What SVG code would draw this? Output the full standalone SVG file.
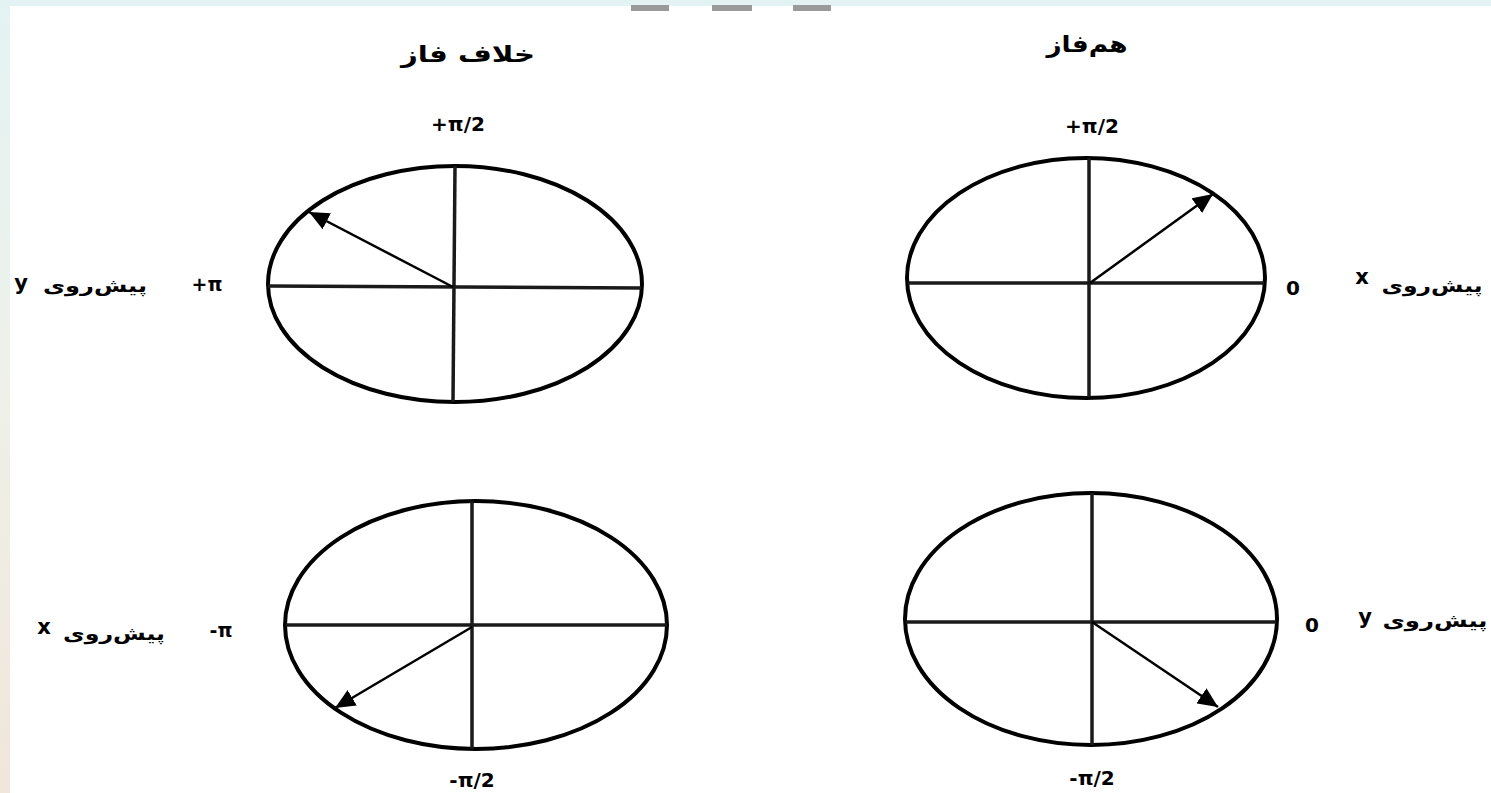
<svg xmlns="http://www.w3.org/2000/svg" width="1491" height="793" viewBox="0 0 1491 793">
  <defs>
    <linearGradient id="edge" x1="0" y1="0" x2="0" y2="1">
      <stop offset="0" stop-color="#e3f3f3"/>
      <stop offset="0.45" stop-color="#eef1ea"/>
      <stop offset="1" stop-color="#f1e6da"/>
    </linearGradient>
    <marker id="ah" markerUnits="userSpaceOnUse" markerWidth="22" markerHeight="18" refX="20" refY="9" orient="auto">
      <path d="M0,0 L20,9 L0,18 Z" fill="#000"/>
    </marker>
    <style>
      .ell { fill: none; stroke: #000; stroke-width: 4; }
      .axis { stroke: #1a1a1a; stroke-width: 3.5; }
      .vec { stroke: #000; stroke-width: 2.5; fill: none; }
      .lbl { font-family: "DejaVu Sans", "Liberation Sans", sans-serif; font-weight: bold; fill: #000; }
      .fa { direction: rtl; unicode-bidi: embed; }
    </style>
  </defs>

  <rect x="0" y="0" width="1491" height="793" fill="url(#edge)"/>
  <rect x="10" y="6" width="1481" height="787" fill="#ffffff"/>
  <g id="top-marks" fill="#9a9a9a">
    <rect x="631" y="5" width="38" height="6"/>
    <rect x="712" y="5" width="40" height="6"/>
    <rect x="793" y="5" width="38" height="6"/>
  </g>

  <g id="titles">
    <text class="lbl fa" x="468" y="62" font-size="23" text-anchor="middle" textLength="134" lengthAdjust="spacingAndGlyphs">خلاف فاز</text>
    <text class="lbl fa" x="1087" y="52" font-size="23" text-anchor="middle" textLength="81" lengthAdjust="spacingAndGlyphs">هم‌فاز</text>
  </g>

  <g id="out-of-phase-top">
    <ellipse class="ell" cx="455" cy="284" rx="187" ry="118"/>
    <line class="axis" x1="455" y1="166" x2="453" y2="402"/>
    <line class="axis" x1="268" y1="286" x2="641" y2="288"/>
    <text class="lbl" x="458" y="131" font-size="20" text-anchor="middle">+π/2</text>
    <text class="lbl" x="207" y="291" font-size="19" text-anchor="middle">+π</text>
    <text class="lbl fa" x="95" y="292" font-size="18" text-anchor="middle" textLength="104" lengthAdjust="spacingAndGlyphs">پیش‌روی</text>
    <text class="lbl" x="21" y="290" font-size="21" text-anchor="middle">y</text>
  </g>

  <g id="in-phase-top">
    <ellipse class="ell" cx="1086" cy="278" rx="179" ry="120"/>
    <line class="axis" x1="1089" y1="158" x2="1089" y2="397"/>
    <line class="axis" x1="908" y1="283" x2="1264" y2="283"/>
    <text class="lbl" x="1092" y="133" font-size="20" text-anchor="middle">+π/2</text>
    <text class="lbl" x="1293" y="295" font-size="20" text-anchor="middle">0</text>
    <text class="lbl" x="1362" y="284" font-size="21" text-anchor="middle">x</text>
    <text class="lbl fa" x="1432" y="292" font-size="18" text-anchor="middle" textLength="101" lengthAdjust="spacingAndGlyphs">پیش‌روی</text>
  </g>

  <g id="out-of-phase-bottom">
    <ellipse class="ell" cx="476" cy="625" rx="191" ry="124"/>
    <line class="axis" x1="472" y1="501" x2="472" y2="749"/>
    <line class="axis" x1="286" y1="625" x2="667" y2="625"/>
    <text class="lbl" x="221" y="637" font-size="19" text-anchor="middle">-π</text>
    <text class="lbl" x="44" y="634" font-size="21" text-anchor="middle">x</text>
    <text class="lbl fa" x="114" y="640" font-size="18" text-anchor="middle" textLength="102" lengthAdjust="spacingAndGlyphs">پیش‌روی</text>
    <text class="lbl" x="472" y="787" font-size="20" text-anchor="middle">-π/2</text>
  </g>

  <g id="in-phase-bottom">
    <ellipse class="ell" cx="1091" cy="619" rx="186" ry="126"/>
    <line class="axis" x1="1092" y1="493" x2="1092" y2="745"/>
    <line class="axis" x1="906" y1="622" x2="1276" y2="622"/>
    <text class="lbl" x="1312" y="632" font-size="20" text-anchor="middle">0</text>
    <text class="lbl" x="1365" y="624" font-size="21" text-anchor="middle">y</text>
    <text class="lbl fa" x="1435" y="627" font-size="18" text-anchor="middle" textLength="105" lengthAdjust="spacingAndGlyphs">پیش‌روی</text>
    <text class="lbl" x="1092" y="785" font-size="20" text-anchor="middle">-π/2</text>
  </g>

  <g id="connectors">
    <line class="vec" x1="453" y1="287" x2="309" y2="212" marker-end="url(#ah)"/>
    <line class="vec" x1="1090" y1="283" x2="1213" y2="194" marker-end="url(#ah)"/>
    <line class="vec" x1="472" y1="627" x2="335" y2="708" marker-end="url(#ah)"/>
    <line class="vec" x1="1092" y1="622" x2="1218" y2="707" marker-end="url(#ah)"/>
  </g>
</svg>
